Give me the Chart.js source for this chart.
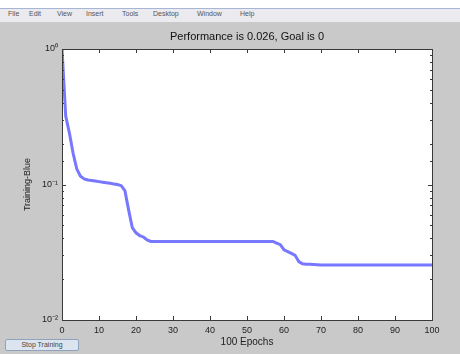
<!DOCTYPE html>
<html>
<head>
<meta charset="utf-8">
<script src="https://cdn.jsdelivr.net/npm/chart.js@4/dist/chart.umd.min.js"></script>
<style>
  html, body { margin: 0; padding: 0; }
  body { width: 460px; height: 354px; background: #c9c9c9; position: relative; overflow: hidden;
         font-family: "Liberation Sans", Arial, sans-serif; }
  #topstrip { position: absolute; left: 0; top: 0; width: 460px; height: 8px; background: #fff; border-bottom: 1px solid #a8b6d6; }
  #menubar { position: absolute; left: 0; top: 9px; width: 460px; height: 13px; background: #ebeaef; }
  #menubar span { position: absolute; top: 1px; font-size: 7px; color: #555; }
  #chart { position: absolute; left: 0; top: 0; }
  #stopbtn { position: absolute; left: 5px; top: 339px; width: 72px; height: 10px; background: #dce4ef;
             border: 1px solid #8fa3bf; border-radius: 2px; font-size: 7px; color: #444; line-height: 10px; text-align: center; }
</style>
</head>
<body>
<div id="topstrip"></div>
<div id="menubar">
  <span style="left:8px">File</span>
  <span style="left:29px">Edit</span>
  <span style="left:57px">View</span>
  <span style="left:86px">Insert</span>
  <span style="left:122px">Tools</span>
  <span style="left:153px">Desktop</span>
  <span style="left:197px">Window</span>
  <span style="left:240px">Help</span>
</div>
<canvas id="chart" width="460" height="354"></canvas>
<div id="stopbtn">Stop Training</div>
<script>
// epochs 0..100 and training performance
const epochs = [];
for (let i = 0; i <= 100; i++) epochs.push(i);

const perf = [
  1.0, 0.32, 0.24, 0.17, 0.13, 0.115, 0.11, 0.108, 0.107, 0.106,
  0.105, 0.104, 0.103, 0.102, 0.101, 0.1, 0.098, 0.09, 0.065, 0.048,
  0.044, 0.042, 0.041, 0.039, 0.038, 0.038, 0.038, 0.038, 0.038, 0.038,
  0.038, 0.038, 0.038, 0.038, 0.038, 0.038, 0.038, 0.038, 0.038, 0.038,
  0.038, 0.038, 0.038, 0.038, 0.038, 0.038, 0.038, 0.038, 0.038, 0.038,
  0.038, 0.038, 0.038, 0.038, 0.038, 0.038, 0.038, 0.038, 0.037, 0.036,
  0.033, 0.032, 0.031, 0.030, 0.027, 0.026, 0.0258, 0.0258, 0.0257, 0.0256,
  0.0255, 0.0255, 0.0255, 0.0255, 0.0255, 0.0255, 0.0255, 0.0255, 0.0255, 0.0255,
  0.0255, 0.0255, 0.0255, 0.0255, 0.0255, 0.0255, 0.0255, 0.0255, 0.0255, 0.0255,
  0.0255, 0.0255, 0.0255, 0.0255, 0.0255, 0.0255, 0.0255, 0.0255, 0.0255, 0.0255,
  0.0255
];

const xTicks = [0, 10, 20, 30, 40, 50, 60, 70, 80, 90, 100];
const yLabels = { '-2': '10\u207B\u00B2', '-1': '10\u207B\u00B9', '0': '10\u2070' };

const titleText = 'Performance is 0.026, Goal is 0';
const xTitle = '100 Epochs';
const yTitle = 'Training-Blue';

const fam = '"Liberation Sans", Arial, sans-serif';

// white plot area + box with inward tick marks, matlab style
const matlabAxes = {
  id: 'matlabAxes',
  beforeDatasetsDraw(chart) {
    const a = chart.chartArea;
    const ctx = chart.ctx;
    ctx.save();
    ctx.fillStyle = '#ffffff';
    ctx.fillRect(a.left, a.top, a.right - a.left, a.bottom - a.top);
    ctx.restore();
  },
  afterDraw(chart) {
    const a = chart.chartArea;
    const ctx = chart.ctx;
    const xs = chart.scales.x, ys = chart.scales.y;
    ctx.save();
    ctx.strokeStyle = '#3a3a3a';
    ctx.lineWidth = 1;
    ctx.beginPath();
    xs.ticks.forEach(t => {
      const px = Math.round(xs.getPixelForValue(t.value)) + 0.5;
      ctx.moveTo(px, a.bottom); ctx.lineTo(px, a.bottom - 4);
      ctx.moveTo(px, a.top); ctx.lineTo(px, a.top + 4);
    });
    ys.ticks.forEach(t => {
      const py = Math.round(ys.getPixelForValue(t.value)) + 0.5;
      const lg = Math.log10(t.value);
      const len = Math.abs(lg - Math.round(lg)) < 1e-6 ? 4 : 2;
      ctx.moveTo(a.left, py); ctx.lineTo(a.left + len, py);
      ctx.moveTo(a.right, py); ctx.lineTo(a.right - len, py);
    });
    ctx.stroke();
    ctx.strokeRect(Math.round(a.left) + 0.5, Math.round(a.top) + 0.5,
                   Math.round(a.right - a.left), Math.round(a.bottom - a.top));
    // title centred over the axes, like matlab
    ctx.fillStyle = '#111';
    ctx.font = '11px ' + fam;
    ctx.textAlign = 'center';
    ctx.textBaseline = 'middle';
    ctx.fillText(titleText, (a.left + a.right) / 2, 37);
    ctx.restore();
  }
};

new Chart(document.getElementById('chart').getContext('2d'), {
  type: 'line',
  data: {
    labels: epochs,
    datasets: [{
      data: epochs.map((e, i) => ({ x: e, y: perf[i] })),
      borderColor: 'rgba(95, 95, 255, 0.85)',
      borderWidth: 3,
      pointRadius: 0,
      tension: 0,
      fill: false
    }]
  },
  options: {
    responsive: false,
    animation: false,
    layout: { padding: { top: 49, left: 0, right: 28, bottom: 0 } },
    plugins: {
      legend: { display: false },
      tooltip: { enabled: false },
      title: { display: false }
    },
    scales: {
      x: {
        type: 'linear',
        min: 0,
        max: 100,
        afterBuildTicks: s => { s.ticks = xTicks.map(v => ({ value: v })); },
        afterFit: s => { s.height = 34; },
        grid: { display: false, drawTicks: false },
        border: { display: false },
        ticks: {
          color: '#222',
          padding: 5,
          maxRotation: 0,
          autoSkip: false,
          font: { family: fam, size: 9 }
        },
        title: {
          display: true,
          text: xTitle,
          color: '#222',
          font: { family: fam, size: 10 },
          padding: { top: 0, bottom: 6 }
        }
      },
      y: {
        type: 'logarithmic',
        min: 0.01,
        max: 1,
        afterFit: s => { s.width = 62; },
        grid: { display: false, drawTicks: false },
        border: { display: false },
        ticks: {
          color: '#222',
          padding: 4,
          autoSkip: false,
          font: { family: fam, size: 9 },
          callback: v => {
            const lg = Math.log10(v);
            if (Math.abs(lg - Math.round(lg)) < 1e-6) return yLabels[String(Math.round(lg))];
            return '';
          }
        },
        title: {
          display: true,
          text: yTitle,
          color: '#222',
          font: { family: fam, size: 9 },
          padding: { top: 22, bottom: 0 }
        }
      }
    }
  },
  plugins: [matlabAxes]
});
</script>
</body>
</html>
